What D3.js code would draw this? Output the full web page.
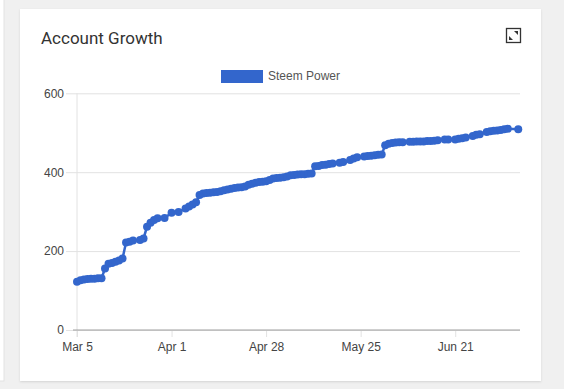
<!DOCTYPE html>
<html>
<head>
<meta charset="utf-8">
<script src="https://cdnjs.cloudflare.com/ajax/libs/d3/7.8.5/d3.min.js"></script>
<style>
  html, body { margin: 0; padding: 0; background: #f0f0f0; }
  #chart { width: 564px; height: 389px; }
</style>
</head>
<body>
<div id="chart"></div>
<script>
// data
const seriesName = 'Steem Power';
const dates = [
  '2018-03-05','2018-03-06','2018-03-07','2018-03-08','2018-03-09','2018-03-10','2018-03-11','2018-03-12',
  '2018-03-13','2018-03-14','2018-03-15','2018-03-16','2018-03-17','2018-03-18','2018-03-19','2018-03-20',
  '2018-03-21','2018-03-23','2018-03-24','2018-03-25','2018-03-26','2018-03-27','2018-03-28','2018-03-30',
  '2018-04-01','2018-04-03','2018-04-05','2018-04-06','2018-04-07','2018-04-08','2018-04-09','2018-04-10',
  '2018-04-11','2018-04-12','2018-04-13','2018-04-14','2018-04-15','2018-04-16','2018-04-17','2018-04-18',
  '2018-04-19','2018-04-20','2018-04-21','2018-04-22','2018-04-23','2018-04-24','2018-04-25','2018-04-26',
  '2018-04-27','2018-04-28','2018-04-29','2018-04-30','2018-05-01','2018-05-02','2018-05-03','2018-05-04',
  '2018-05-05','2018-05-06','2018-05-07','2018-05-08','2018-05-09','2018-05-10','2018-05-11','2018-05-12',
  '2018-05-13','2018-05-14','2018-05-15','2018-05-16','2018-05-17','2018-05-19','2018-05-20','2018-05-22',
  '2018-05-23','2018-05-24','2018-05-26','2018-05-27','2018-05-28','2018-05-29','2018-05-30','2018-05-31',
  '2018-06-01','2018-06-02','2018-06-03','2018-06-04','2018-06-05','2018-06-06','2018-06-08','2018-06-09',
  '2018-06-10','2018-06-11','2018-06-12','2018-06-13','2018-06-14','2018-06-15','2018-06-16','2018-06-18',
  '2018-06-19','2018-06-21','2018-06-22','2018-06-23','2018-06-24','2018-06-26','2018-06-27','2018-06-28',
  '2018-06-30','2018-07-01','2018-07-02','2018-07-03','2018-07-04','2018-07-05','2018-07-06','2018-07-09'
];
const values = [
  122, 126, 128, 129, 130, 130, 131, 131,
  156, 168, 170, 173, 176, 181, 222, 224,
  227, 228, 232, 262, 272, 279, 283, 284,
  297, 299, 308, 313, 318, 324, 342, 346,
  347, 348, 349, 350, 352, 354, 356, 358,
  360, 361, 362, 364, 368, 371, 373, 375,
  376, 377, 380, 384, 385, 386, 387, 389,
  392, 393, 394, 395, 395, 396, 397, 415,
  416, 418, 419, 421, 422, 424, 426, 431,
  435, 438, 440, 441, 442, 443, 444, 445,
  468, 472, 474, 475, 476, 476, 477, 477,
  478, 478, 478, 479, 479, 480, 481, 483,
  483, 483, 485, 486, 488, 492, 495, 496,
  502, 504, 505, 506, 507, 509, 510, 509
];
const xTicks = ['2018-03-05', '2018-04-01', '2018-04-28', '2018-05-25', '2018-06-21'];
const yTicks = [0, 200, 400, 600];

const parse = d3.timeParse('%Y-%m-%d');
const data = dates.map((d, i) => ({ date: parse(d), value: values[i] }));

let width = 564;
let height = 389;
let svg = d3.select('#chart')
    .append('svg')
    .attr('width', width)
    .attr('height', height)
    .style('font-family', '"Liberation Sans", Arial, sans-serif');

// neighbouring card edge on the far left
svg.append('rect').attr('x', -10).attr('y', -5).attr('width', 14).attr('height', 386)
    .attr('fill', '#fff').attr('stroke', '#e2e2e2');

// card
let defs = svg.append('defs');
let shadow = defs.append('filter').attr('id', 'shadow').attr('x', '-5%').attr('y', '-5%')
    .attr('width', '110%').attr('height', '110%');
shadow.append('feDropShadow').attr('dx', 0).attr('dy', 1).attr('stdDeviation', 1)
    .attr('flood-color', '#000').attr('flood-opacity', 0.12);
svg.append('rect')
    .attr('x', 20).attr('y', 9).attr('width', 521).attr('height', 372)
    .attr('fill', '#fff')
    .attr('filter', 'url(#shadow)');

svg.append('text')
    .attr('x', 41).attr('y', 44)
    .attr('font-family', 'Roboto, sans-serif')
    .attr('font-size', 17)
    .attr('fill', '#333')
    .text('Account Growth');

// expand icon
let icon = svg.append('g').attr('transform', 'translate(506,28)');
icon.append('rect').attr('x', 0.5).attr('y', 0.5).attr('width', 14).attr('height', 14)
    .attr('fill', 'none').attr('stroke', '#333').attr('stroke-width', 1.3);
icon.append('path').attr('d', 'M8,3 L12,3 L12,7 Z').attr('fill', '#333');
icon.append('path').attr('d', 'M3,8 L3,12 L7,12 Z').attr('fill', '#333');

// legend
let legend = svg.append('g').attr('transform', 'translate(221,70)');
legend.append('rect').attr('width', 42).attr('height', 13).attr('fill', '#3366cc');
legend.append('text').attr('x', 47).attr('y', 9.5).attr('font-size', 12).attr('fill', '#555')
    .text(seriesName);

let plot = { left: 77, right: 520, top: 93.3, bottom: 330 };

let xScale = d3.scaleTime()
    .domain([parse('2018-03-05'), new Date(2018, 6, 9, 12)])
    .range([plot.left, plot.right]);
let yScale = d3.scaleLinear()
    .domain([0, 600])
    .range([plot.bottom, plot.top]);

// horizontal gridlines
let yAxis = d3.axisLeft(yScale)
    .tickValues(yTicks)
    .tickSize(plot.right - plot.left + 11)
    .tickPadding(2)
    .tickFormat(d3.format('d'));
let yAxisGroup = svg.append('g')
    .attr('transform', `translate(${plot.right},0)`)
    .call(yAxis);
yAxisGroup.select('.domain').remove();
yAxisGroup.selectAll('line').attr('stroke', '#e2e2e2');
yAxisGroup.selectAll('text').attr('font-size', 12).attr('fill', '#444')
    .attr('font-family', '"Liberation Sans", Arial, sans-serif');

// left vertical line
svg.append('line')
    .attr('x1', plot.left).attr('x2', plot.left)
    .attr('y1', plot.top).attr('y2', plot.bottom + 7)
    .attr('stroke', '#e2e2e2');

let xAxis = d3.axisBottom(xScale)
    .tickValues(xTicks.map(parse))
    .tickSize(7)
    .tickPadding(5)
    .tickFormat(d3.timeFormat('%b %-d'));
let xAxisGroup = svg.append('g')
    .attr('transform', `translate(0,${plot.bottom})`)
    .call(xAxis);
xAxisGroup.select('.domain').remove();
xAxisGroup.selectAll('line').attr('stroke', '#e2e2e2');
xAxisGroup.selectAll('text').attr('font-size', 12).attr('fill', '#444')
    .attr('font-family', '"Liberation Sans", Arial, sans-serif');

// baseline at zero
svg.append('line')
    .attr('x1', plot.left - 4).attr('x2', plot.right)
    .attr('y1', yScale(0)).attr('y2', yScale(0))
    .attr('stroke', '#9e9e9e');

let line = d3.line()
    .x(d => xScale(d.date))
    .y(d => yScale(d.value));

svg.append('path')
    .datum(data)
    .attr('d', line)
    .attr('fill', 'none')
    .attr('stroke', '#3366cc')
    .attr('stroke-width', 2.5);

svg.append('g')
    .selectAll('circle')
    .data(data)
    .join('circle')
    .attr('cx', d => xScale(d.date))
    .attr('cy', d => yScale(d.value))
    .attr('r', 4)
    .attr('fill', '#3366cc');
</script>
</body>
</html>
